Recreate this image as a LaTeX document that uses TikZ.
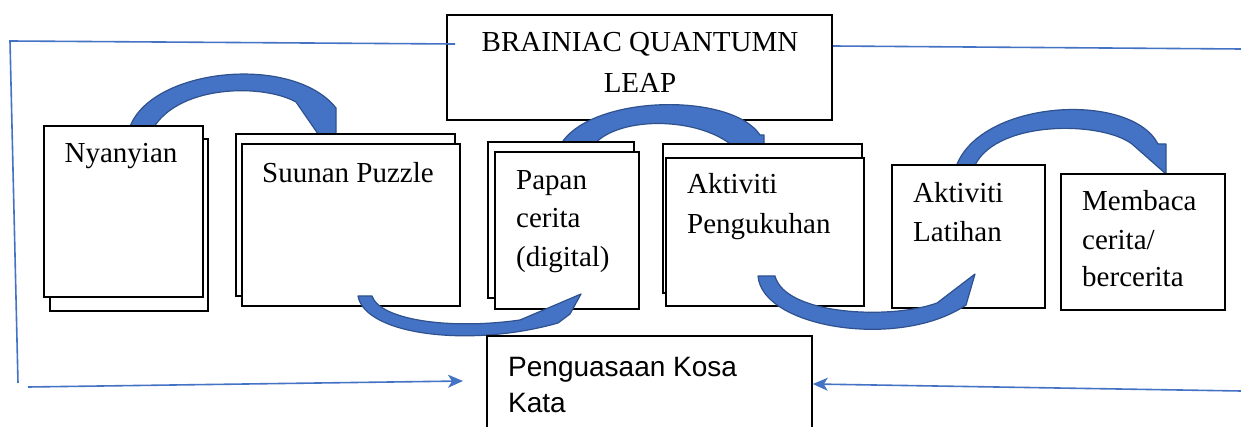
\documentclass[tikz,border=0pt]{standalone}
\usepackage{fontspec}
\setmainfont{Liberation Serif}
\newfontfamily\arialf{Liberation Sans}
\usetikzlibrary{fit,arrows.meta}
\definecolor{wblue}{HTML}{4472C4}
\definecolor{wdark}{HTML}{2F528F}
\begin{document}
\begin{tikzpicture}[x=1pt,y=-1pt,
  box/.style={draw=black, line width=1.5pt, fill=white, inner sep=0pt},
  lbl/.style={font=\fontsize{29}{38}\selectfont, inner sep=0pt, anchor=base west},
  lblc/.style={lbl, anchor=base},
  sanslbl/.style={font=\arialf\fontsize{28}{37}\selectfont, inner sep=0pt, anchor=base west},
  band/.style={fill=wblue, draw=wdark, line width=1.2pt, line join=round},
  bline/.style={draw=wblue, line width=1.6pt},
  barrow/.style={bline, -{Stealth[length=15pt,width=13pt,inset=4pt]}}
]
\useasboundingbox (0,0) rectangle (1241,427);
\fill[white] (0,0) rectangle (1241,427);

% title box
\node[box, fit={(447,15) (832,120)}] (bq) {};
\node[lblc] (bq1) at (640,52) {BRAINIAC QUANTUMN};
\node[lblc] (bq2) at (640,93) {LEAP};

% frame lines
\coordinate (tlend) at (455,44);
\coordinate (tl) at (10,41);
\coordinate (bl) at (18,383);
\coordinate (trs) at (833,46);
\coordinate (tre) at (1241,49);
\draw[bline] (tlend) -- (tl) -- (bl);
\draw[bline] (trs) -- (tre);

% upper curved arrows (behind boxes)
\draw[band] (127,140) .. controls (132,70) and (290,50) .. (336,108) -- (336,160) -- (296,102) .. controls (260,82) and (165,85) .. (148,140) -- cycle;
\draw[band] (558,150) .. controls (580,95) and (730,90) .. (760,135) -- (764,135) -- (764,160) -- (735,148) .. controls (700,115) and (610,115) .. (590,150) -- cycle;
\draw[band] (955,170) .. controls (975,100) and (1130,90) .. (1158,144) -- (1166,144) -- (1166,174) -- (1132,144) .. controls (1100,120) and (990,120) .. (973,170) -- cycle;

% boxes
\node[box, fit={(50,139) (208,311)}] (nyab) {};
\node[box, fit={(44,126) (203,297)}] (nya) {};
\node[lblc] (t-nya) at (121,163) {Nyanyian};

\node[box, fit={(236,134) (455,296)}] (suub) {};
\node[box, fit={(242,144) (460,306)}] (suu) {};
\node[lbl] (t-suu) at (262,183) {Suunan Puzzle};

\node[box, fit={(488,142) (634,298)}] (papb) {};
\node[box, fit={(495,152) (639,309)}] (pap) {};
\node[lbl] (t-pap1) at (516,190) {Papan};
\node[lbl] (t-pap2) at (516,228) {cerita};
\node[lbl] (t-pap3) at (516,267) {(digital)};

\node[box, fit={(663,144) (862,293)}] (pngb) {};
\node[box, fit={(666,158) (864,306)}] (png) {};
\node[lbl] (t-png1) at (687,194) {Aktiviti};
\node[lbl] (t-png2) at (687,234) {Pengukuhan};

\node[box, fit={(892,165) (1045,308)}] (lat) {};
\node[lbl] (t-lat1) at (913,203) {Aktiviti};
\node[lbl] (t-lat2) at (913,242) {Latihan};

\node[box, fit={(1061,174) (1225,310)}] (mem) {};
\node[lbl] (t-mem1) at (1082,211) {Membaca};
\node[lbl] (t-mem2) at (1082,250) {cerita/};
\node[lbl] (t-mem3) at (1082,287) {bercerita};

% lower curved arrows (over boxes)
\draw[band] (358,296) .. controls (365,335) and (470,348) .. (558,323) -- (570,314) -- (581,294) -- (520,320) .. controls (450,330) and (380,320) .. (372,296) -- cycle;
\draw[band] (758,276) .. controls (762,328) and (900,350) .. (966,305) -- (975,274) -- (937,303) .. controls (890,320) and (785,315) .. (775,276) -- cycle;

% result box
\node[box, fit={(487,336) (812,445)}] (pk) {};
\node[sanslbl] (t-pk1) at (508,376) {Penguasaan Kosa};
\node[sanslbl] (t-pk2) at (508,412) {Kata};

\coordinate (las) at (28,387);
\coordinate (lae) at (463,381);
\coordinate (ras) at (1241,391);
\draw[barrow] (las) -- (lae);
\draw[barrow] (ras) -- (pk.east |- 0,384);
\end{tikzpicture}
\end{document}
